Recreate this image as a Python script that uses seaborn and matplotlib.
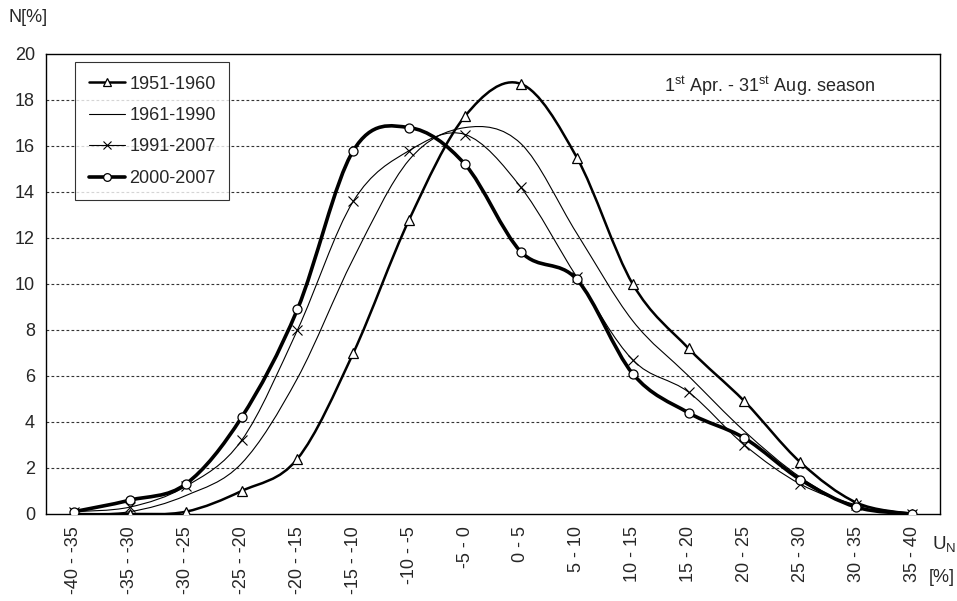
import numpy as np
import pandas as pd
import matplotlib
matplotlib.use("Agg")
import matplotlib.pyplot as plt
from matplotlib.path import Path
from matplotlib.patches import PathPatch
from matplotlib.lines import Line2D
import seaborn as sns

# Class intervals of U_N [%]
categories = ["-40 - -35", "-35 - -30", "-30 - -25", "-25 - -20", "-20 - -15",
              "-15 - -10", "-10 - -5", "-5 - 0", "0 - 5", "5 - 10", "10 - 15",
              "15 - 20", "20 - 25", "25 - 30", "30 - 35", "35 - 40"]

# Frequency N [%] per period
n_1951_1960 = [0.0, 0.0, 0.1, 1.0, 2.4, 7.0, 12.8, 17.3, 18.7, 15.5, 10.0, 7.2, 4.9, 2.25, 0.5, 0.0]
n_1961_1990 = [0.0, 0.1, 0.8, 2.2, 5.9, 11.1, 15.4, 16.8, 16.1, 12.2, 8.4, 6.0, 3.6, 1.6, 0.3, 0.0]
n_1991_2007 = [0.1, 0.3, 1.2, 3.2, 8.0, 13.6, 15.8, 16.5, 14.2, 10.3, 6.7, 5.3, 3.0, 1.3, 0.4, 0.0]
n_2000_2007 = [0.1, 0.6, 1.3, 4.2, 8.9, 15.8, 16.8, 15.2, 11.4, 10.2, 6.1, 4.4, 3.3, 1.5, 0.3, 0.0]

series_names = ["1951-1960", "1961-1990", "1991-2007", "2000-2007"]
series_values = [n_1951_1960, n_1961_1990, n_1991_2007, n_2000_2007]

styles = {
    "1951-1960": dict(lw=1.8, marker="^", ms=7.5, mew=0.9),
    "1961-1990": dict(lw=0.8, marker=None, ms=0, mew=0),
    "1991-2007": dict(lw=0.8, marker="x", ms=7, mew=0.8),
    "2000-2007": dict(lw=2.6, marker="o", ms=6.5, mew=0.9),
}

sns.set_style("white")
plt.rcParams["font.family"] = ["Liberation Sans", "DejaVu Sans"]
plt.rcParams["mathtext.fontset"] = "custom"
plt.rcParams["mathtext.rm"] = "Liberation Sans"

FS = 13

fig = plt.figure(figsize=(9.57, 6.01), dpi=100)
ax = fig.add_axes([46 / 957, 1 - 514 / 601, (940 - 46) / 957, (514 - 54) / 601])

df = pd.DataFrame({name: vals for name, vals in zip(series_names, series_values)})
df["interval"] = categories
long = df.melt(id_vars="interval", var_name="period", value_name="N")
long["pos"] = long["interval"].map({c: i for i, c in enumerate(categories)})


def smooth_path(xs, ys):
    """Cubic Bezier path through the points (spreadsheet-style smoothed line)."""
    pts = np.column_stack([xs, ys]).astype(float)
    n = len(pts)
    verts = [pts[0]]
    codes = [Path.MOVETO]
    for i in range(n - 1):
        p0 = pts[i - 1] if i > 0 else pts[i]
        p1 = pts[i]
        p2 = pts[i + 1]
        p3 = pts[i + 2] if i + 2 < n else pts[i + 1]
        c1 = p1 + (p2 - p0) / 6.0
        c2 = p2 - (p3 - p1) / 6.0
        verts += [c1, c2, p2]
        codes += [Path.CURVE4] * 3
    return Path(verts, codes)


# Smoothed curves
for name in series_names:
    sub = long[long["period"] == name]
    st = styles[name]
    patch = PathPatch(smooth_path(sub["pos"].values, sub["N"].values),
                      facecolor="none", edgecolor="black", lw=st["lw"],
                      transform=ax.transData, zorder=3, capstyle="round",
                      joinstyle="round")
    ax.add_patch(patch)

# Markers at the data points
for name in series_names:
    st = styles[name]
    if st["marker"] is None:
        continue
    sub = long[long["period"] == name]
    sns.lineplot(data=sub, x="pos", y="N", ax=ax, linestyle="none",
                 marker=st["marker"], markersize=st["ms"],
                 markerfacecolor="white", markeredgecolor="black",
                 markeredgewidth=st["mew"], color="black", zorder=4,
                 legend=False)

ax.set_xlim(-0.5, len(categories) - 0.5)
ax.set_ylim(0, 20)

# Axes, ticks, grid
ax.set_yticks(np.arange(0, 21, 2))
ax.set_yticklabels([str(v) for v in range(0, 21, 2)], fontsize=FS)
ax.set_xticks(np.arange(len(categories)))
ax.set_xticklabels(categories, rotation=90, fontsize=FS)
ax.set_xticks(np.arange(len(categories) + 1) - 0.5, minor=True)
ax.tick_params(axis="x", which="major", length=0, pad=9)
ax.tick_params(axis="x", which="minor", length=6, width=1, color="black", direction="out")
ax.tick_params(axis="y", which="major", length=5, width=1, color="black",
               direction="out", pad=3)
for yv in range(2, 20, 2):
    ax.axhline(yv, color="#333333", lw=0.8, ls=(0, (2.5, 2)), zorder=1)
for sp in ax.spines.values():
    sp.set_visible(True)
    sp.set_color("black")
    sp.set_linewidth(1.0)
ax.set_xlabel("")
ax.set_ylabel("")

# Legend
handles = []
for name in series_names:
    st = styles[name]
    handles.append(Line2D([], [], color="black", lw=st["lw"],
                          marker=st["marker"] if st["marker"] else None,
                          markersize=st["ms"] * 0.85, markerfacecolor="white",
                          markeredgecolor="black", markeredgewidth=st["mew"]))
leg = ax.legend(handles, series_names, loc="upper left",
                bbox_to_anchor=(29 / 894, 1 - 8 / 460), fontsize=FS,
                frameon=True, fancybox=False, edgecolor="black",
                handlelength=2.0, handletextpad=0.25, labelspacing=0.8,
                borderpad=0.75, borderaxespad=0)
leg.get_frame().set_linewidth(0.8)

# Season annotation
ax.text(0.927, 0.929, r"1$^{\mathregular{st}}$ Apr. - 31$^{\mathregular{st}}$ Aug. season",
        transform=ax.transAxes, ha="right", va="center", fontsize=FS)

# Axis titles
fig.text(8 / 957, 1 - 18 / 601, "N[%]", ha="left", va="center", fontsize=FS)
fig.text(932 / 957, 1 - 545 / 601, r"U$_\mathregular{N}$", ha="left", va="center", fontsize=FS + 0.5)
fig.text(929 / 957, 1 - 577 / 601, "[%]", ha="left", va="center", fontsize=FS)

fig.savefig("out.png", dpi=100)
